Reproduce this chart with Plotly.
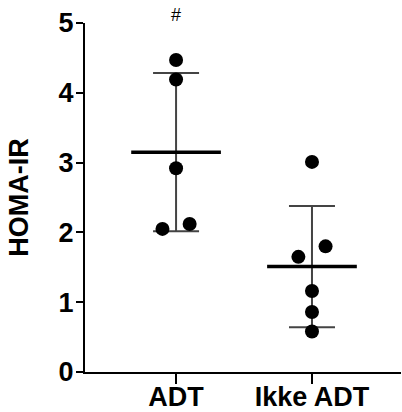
import plotly.graph_objects as go
import numpy as np

categories = ["ADT", "Ikke ADT"]
adt_values = [4.47, 4.19, 2.92, 2.05, 2.12]
ikke_values = [3.01, 1.80, 1.65, 1.16, 0.86, 0.58]
adt_jitter = [0.0, 0.0, 0.0, -0.10, 0.10]
ikke_jitter = [0.0, 0.10, -0.10, 0.0, 0.0, 0.0]
y_ticks = [0, 1, 2, 3, 4, 5]
sig_label = "#"

groups = [adt_values, ikke_values]
jitters = [adt_jitter, ikke_jitter]

FONT = "Liberation Sans, Arial, sans-serif"
fig = go.Figure()

for i, (vals, jit) in enumerate(zip(groups, jitters)):
    vals = np.array(vals)
    mean = vals.mean()
    sd = vals.std(ddof=1)
    # error bar (mean ± SD)
    fig.add_trace(go.Scatter(
        x=[i], y=[mean], mode="markers",
        marker=dict(size=1, color="rgba(0,0,0,0)"),
        error_y=dict(type="data", array=[sd], visible=True,
                     color="#444444", thickness=2, width=23),
        showlegend=False, hoverinfo="skip"))
    # mean line
    fig.add_trace(go.Scatter(
        x=[i - 0.33, i + 0.33], y=[mean, mean], mode="lines",
        line=dict(color="black", width=3.5), showlegend=False, hoverinfo="skip"))
    # points
    fig.add_trace(go.Scatter(
        x=[i + j for j in jit], y=vals, mode="markers",
        marker=dict(size=14, color="black"), showlegend=False, cliponaxis=False))

fig.add_annotation(x=0, y=5, xref="x", yref="y", text=sig_label, showarrow=False,
                   yshift=8, font=dict(family=FONT, size=18, color="black"))

fig.update_layout(
    width=402, height=412,
    margin=dict(l=85, r=1, t=23, b=40),
    plot_bgcolor="white", paper_bgcolor="white",
    font=dict(family=FONT, color="black"),
    xaxis=dict(range=[-0.67, 1.655], tickvals=[0, 1], ticktext=categories,
               showgrid=False, zeroline=False, showline=True, linecolor="black",
               linewidth=2, ticks="outside", ticklen=10, tickwidth=1.5,
               tickcolor="black", automargin=False, ticklabelstandoff=-10,
               tickfont=dict(family=FONT, size=27, color="black", weight="bold")),
    yaxis=dict(range=[0, 5], tickvals=y_ticks, showgrid=False, zeroline=False,
               showline=True, linecolor="black", linewidth=2, ticks="outside",
               ticklen=7, tickwidth=1.5, tickcolor="black", ticklabelstandoff=-3,
               automargin=False,
               tickfont=dict(family=FONT, size=27, color="black", weight="bold"),
               title=dict(text="HOMA-IR", standoff=22,
                          font=dict(family=FONT, size=27, color="black", weight="bold"))),
)

fig.write_html("out.html", config={"displayModeBar": False},
               post_script="document.body.style.margin='0';document.body.style.padding='0';")
